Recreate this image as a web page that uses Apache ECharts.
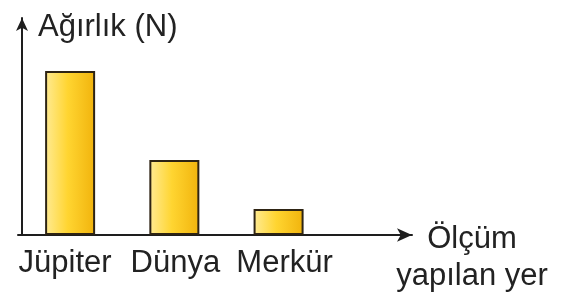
<!DOCTYPE html>
<html>
<head>
<meta charset="utf-8">
<script src="https://cdn.jsdelivr.net/npm/echarts@6/dist/echarts.min.js"></script>
<style>
html,body{margin:0;padding:0;background:#fff;}
#c{width:568px;height:295px;}
</style>
</head>
<body>
<div id="c"></div>
<script>
const categories = ['Jüpiter', 'Dünya', 'Merkür'];
const weights = [75.6, 34.6, 12.0];
const yAxisName = 'Ağırlık (N)';
const xAxisName = 'Ölçüm\nyapılan yer';

const chart = echarts.init(document.getElementById('c'), null, {renderer: 'canvas'});
const FONT = 'Liberation Sans, Arial, sans-serif';
const barData = weights.map((v, i) => [i + 0.5, v]);
const labelStyle = {fontFamily: FONT, fontSize: 31, lineHeight: 30, color: '#222'};

chart.setOption({
  animation: false,
  backgroundColor: '#ffffff',
  grid: {left: 18, right: 156, top: 18, bottom: 60, containLabel: false},
  xAxis: {
    type: 'value',
    min: 0,
    max: 3.78,
    interval: 0.5,
    splitLine: {show: false},
    axisTick: {show: false},
    axisLine: {
      show: true, onZero: false,
      lineStyle: {color: '#1e1e1e', width: 2},
      symbol: ['none', 'arrow'],
      symbolSize: [10, 15]
    },
    axisLabel: {
      show: true,
      margin: 13,
      showMaxLabel: false,
      showMinLabel: false,
      fontFamily: FONT, fontSize: 31, lineHeight: 30, color: '#222',
      rich: {
        l0: Object.assign({padding: [0, 10, 0, 0]}, labelStyle),
        l1: Object.assign({padding: [0, 0, 0, 2]}, labelStyle),
        l2: Object.assign({padding: [0, 0, 0, 12]}, labelStyle)
      },
      formatter: function (v) {
        const f = v - Math.floor(v);
        if (Math.abs(f - 0.5) < 1e-6) {
          const idx = Math.floor(v);
          return categories[idx] ? '{l' + idx + '|' + categories[idx] + '}' : '';
        }
        return '';
      }
    },
    name: xAxisName,
    nameLocation: 'end',
    nameGap: 60,
    nameMoveOverlap: false,
    nameTextStyle: {
      fontFamily: FONT, fontSize: 31, lineHeight: 37, color: '#222',
      align: 'center', verticalAlign: 'top', padding: [-14, 0, 0, 0]
    }
  },
  yAxis: {
    type: 'value',
    min: 0,
    max: 100,
    offset: -4,
    splitLine: {show: false},
    axisTick: {show: false},
    axisLabel: {show: false},
    axisLine: {
      show: true, onZero: false,
      lineStyle: {color: '#1e1e1e', width: 2},
      symbol: ['none', 'arrow'],
      symbolSize: [9, 13]
    },
    name: yAxisName,
    nameLocation: 'end',
    nameGap: -9,
    nameMoveOverlap: false,
    nameTextStyle: {
      fontFamily: FONT, fontSize: 31, color: '#222',
      align: 'left', verticalAlign: 'middle', padding: [0, 0, 0, 16]
    }
  },
  series: [{
    type: 'bar',
    data: barData,
    barWidth: 50,
    itemStyle: {
      color: new echarts.graphic.LinearGradient(0, 0, 1, 0, [
        {offset: 0, color: '#FFEB94'},
        {offset: 0.45, color: '#FFD531'},
        {offset: 1, color: '#F1B30C'}
      ]),
      borderColor: '#2e2414',
      borderWidth: 2
    }
  }]
});
</script>
</body>
</html>
